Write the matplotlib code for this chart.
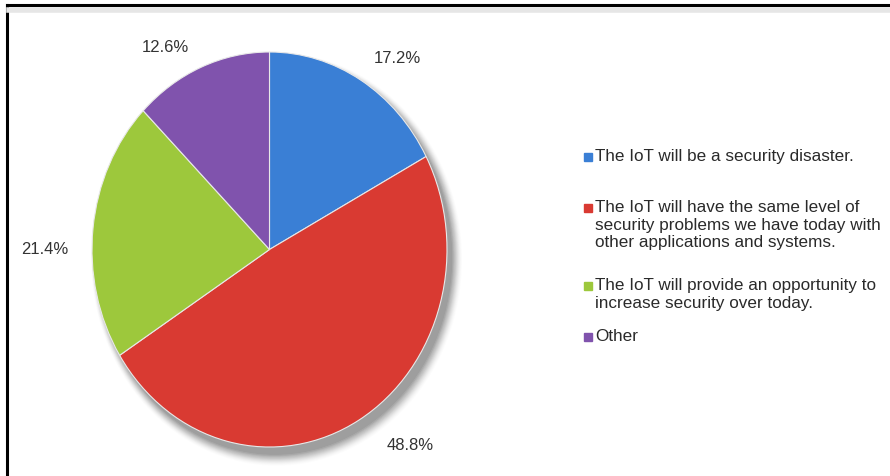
import numpy as np
import matplotlib.pyplot as plt
from matplotlib.patches import Ellipse
from matplotlib.lines import Line2D

plt.rcParams['font.family'] = ['Liberation Sans', 'DejaVu Sans']

labels = ['The IoT will be a security disaster.',
          'The IoT will have the same level of\nsecurity problems we have today with\nother applications and systems.',
          'The IoT will provide an opportunity to\nincrease security over today.',
          'Other']
shares = [17.2, 48.8, 21.4, 12.6]
colors = ['#3a7fd5', '#d93a32', '#9dc83c', '#8053ad']

W, H = 890, 476
fig = plt.figure(figsize=(W / 100, H / 100), dpi=100)
fig.patch.set_facecolor('white')

# pie sits in a box that is taller than wide, so it comes out as an ellipse
cx, cy, rx, ry = 269.5, 249.5, 177.5, 197.5
left, right, top, bottom = 10, 500, 20, 474
ax = fig.add_axes([left / W, 1 - bottom / H, (right - left) / W, (bottom - top) / H])

# soft drop shadow
for i in range(12):
    k = i / 11
    ax.add_patch(Ellipse((0.03 + 0.01 * k, -0.04 - 0.01 * k), 2.0 + 0.09 * k, 2.0 + 0.09 * k,
                         facecolor='#000000', alpha=0.05 * (1 - k) + 0.012, lw=0, zorder=0))

wedges, texts, autotexts = ax.pie(shares, colors=colors, startangle=90, counterclock=False,
                                  autopct='%.1f%%', pctdistance=1.22, frame=True,
                                  wedgeprops=dict(edgecolor='#e8e8e8', linewidth=0.8),
                                  textprops=dict(fontsize=12, color='#333333'))
ax.set_xlim((left - cx) / rx, (right - cx) / rx)
ax.set_ylim((cy - bottom) / ry, (cy - top) / ry)
ax.set_aspect('auto')
ax.axis('off')

# percent labels moved to where the original has them (pixels)
pct_pos = [(397, 59), (410, 445), (45, 250), (165, 47)]
for t, (px, py) in zip(autotexts, pct_pos):
    t.set_position(((px - cx) / rx, (cy - py) / ry))

# legend, placed by hand to keep the uneven gaps
leg_y = [157, 208, 286, 337]
for lab, col, y in zip(labels, colors, leg_y):
    fig.patches.append(plt.Rectangle((584 / W, 1 - (y + 4) / H), 8 / W, 8 / H,
                                     transform=fig.transFigure, color=col, figure=fig))
    fig.text(595 / W, 1 - (y - 8) / H, lab, fontsize=12.3, color='#2a2a2a',
             va='top', ha='left', linespacing=1.22)

# frame of the original screenshot
fig.add_artist(Line2D([7 / W, 7 / W], [0, 1 - 5 / H], color='black', lw=2.2))
fig.add_artist(Line2D([7 / W, 1], [1 - 5 / H, 1 - 5 / H], color='black', lw=2.2))
fig.add_artist(Line2D([9 / W, 1], [1 - 10 / H, 1 - 10 / H], color='#e6e6e6', lw=4))

fig.savefig('out.png', dpi=100, facecolor='white')
